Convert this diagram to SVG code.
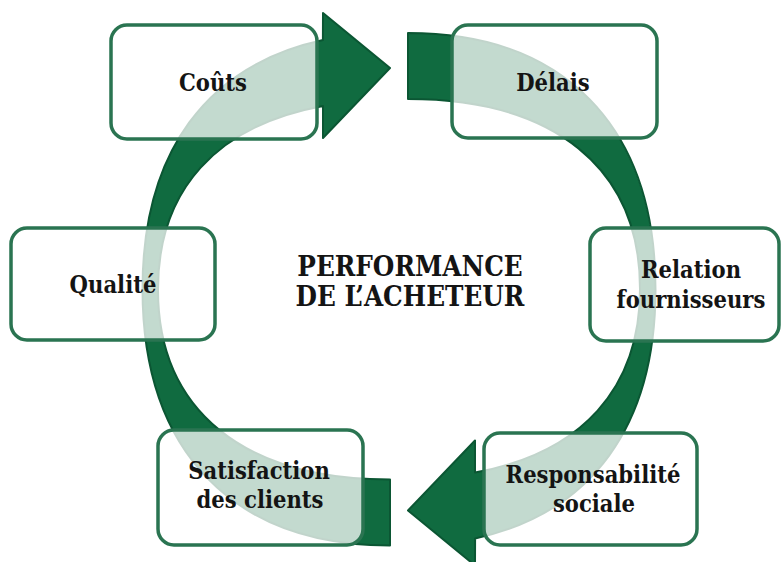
<svg xmlns="http://www.w3.org/2000/svg" width="784" height="562" viewBox="0 0 784 562">
  <style>
    .arrow { fill: #106b40; stroke: #0b5633; stroke-width: 2; stroke-linejoin: round; }
    .box { fill: #ffffff; fill-opacity: 0.75; stroke: #2a7451; stroke-width: 3.5; }
    .lbl { font-family: "DejaVu Serif", "Liberation Serif", serif; font-stretch: condensed; font-weight: bold; font-size: 23.5px; fill: #141414; text-anchor: middle; }
    .title { font-size: 27.5px; }
  </style>
  <defs>
    <path id="arc" d="M 390 545.5 C 234.8 545.5 142.5 453.2 142.5 289 C 142.5 152.2 206.6 65.3 322.9 40.1 L 323 13 L 390 68 L 323 138 L 323 106 C 216.6 125.6 158 189.6 158 289.5 C 158 411.1 244.8 479.5 390 479.5 Z"/>
  </defs>
  <g id="connectors">
    <use href="#arc" class="arrow"/>
    <use href="#arc" class="arrow" transform="rotate(180 399 289.25)"/>
  </g>
  <g id="title">
    <text class="lbl title" x="410" y="276">PERFORMANCE</text>
    <text class="lbl title" x="410" y="306">DE L’ACHETEUR</text>
  </g>
  <g id="couts">
    <rect class="box" x="111" y="25" width="206" height="114" rx="16"/>
    <text class="lbl" x="213" y="91">Coûts</text>
  </g>
  <g id="delais">
    <rect class="box" x="452" y="25" width="205" height="113" rx="16"/>
    <text class="lbl" x="553" y="91">Délais</text>
  </g>
  <g id="qualite">
    <rect class="box" x="11" y="228" width="204" height="112" rx="16"/>
    <text class="lbl" x="113" y="293">Qualité</text>
  </g>
  <g id="relation">
    <rect class="box" x="590" y="228" width="189" height="113" rx="16"/>
    <text class="lbl" x="691" y="278">Relation</text>
    <text class="lbl" x="691" y="308">fournisseurs</text>
  </g>
  <g id="satisfaction">
    <rect class="box" x="158" y="430" width="205" height="115" rx="16"/>
    <text class="lbl" x="259" y="479">Satisfaction</text>
    <text class="lbl" x="260" y="508">des clients</text>
  </g>
  <g id="responsabilite">
    <rect class="box" x="484" y="433" width="213" height="112" rx="16"/>
    <text class="lbl" x="593" y="483">Responsabilité</text>
    <text class="lbl" x="594" y="512">sociale</text>
  </g>
</svg>
